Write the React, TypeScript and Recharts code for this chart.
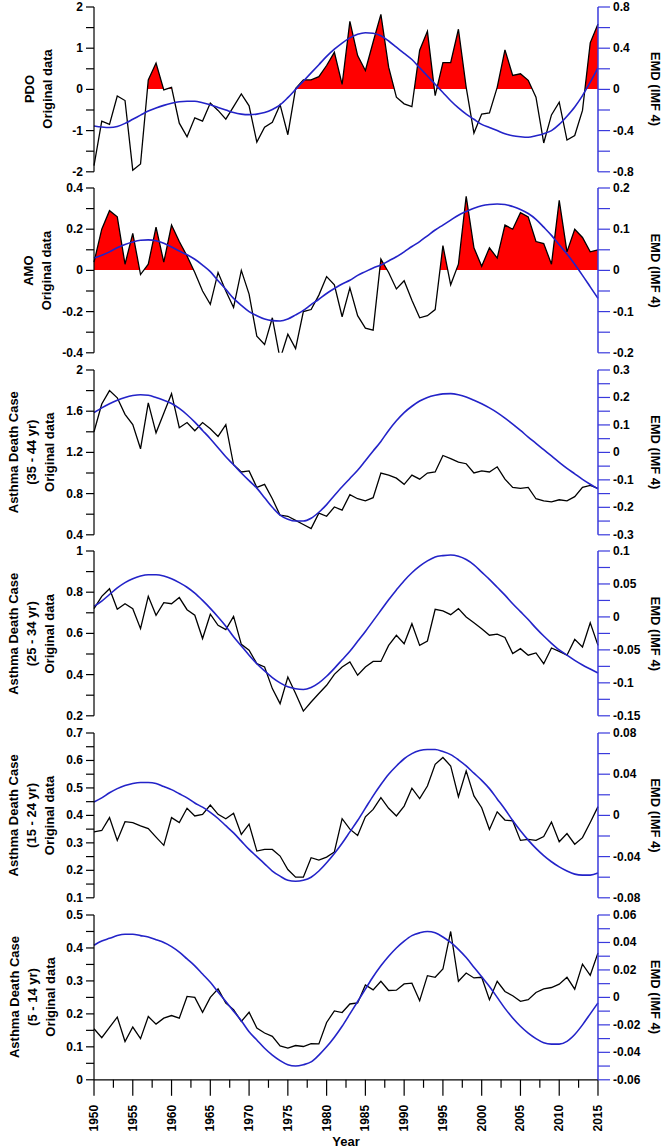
import React from "react";
import { ComposedChart, Line, Area, XAxis, YAxis } from "recharts";

const years = [
  1950, 1951, 1952, 1953, 1954, 1955, 1956, 1957, 1958, 1959,
  1960, 1961, 1962, 1963, 1964, 1965, 1966, 1967, 1968, 1969,
  1970, 1971, 1972, 1973, 1974, 1975, 1976, 1977, 1978, 1979,
  1980, 1981, 1982, 1983, 1984, 1985, 1986, 1987, 1988, 1989,
  1990, 1991, 1992, 1993, 1994, 1995, 1996, 1997, 1998, 1999,
  2000, 2001, 2002, 2003, 2004, 2005, 2006, 2007, 2008, 2009,
  2010, 2011, 2012, 2013, 2014, 2015,
];

// original data (left axes)
const pdo = [
  -1.85, -0.77, -0.85, -0.16, -0.27, -1.96, -1.81, 0.23, 0.64, -0.01,
  0.05, -0.82, -1.15, -0.69, -0.77, -0.33, -0.51, -0.72, -0.42, -0.11,
  -0.4, -1.28, -0.92, -0.8, -0.37, -1.1, 0.02, 0.23, 0.23, 0.31,
  0.58, 0.9, 0.12, 1.65, 0.82, 0.46, 1.15, 1.82, 0.54, -0.19,
  -0.35, -0.42, 0.95, 1.41, -0.15, 0.65, 0.65, 1.46, 0.05, -1.06,
  -0.6, -0.57, 0.05, 0.96, 0.34, 0.38, 0.22, -0.19, -1.3, -0.62,
  -0.31, -1.23, -1.12, -0.51, 1.13, 1.59,
];
const amo = [
  0.04, 0.2, 0.29, 0.26, 0.03, 0.18, -0.02, 0.03, 0.21, 0.04,
  0.22, 0.14, 0.07, -0.01, -0.1, -0.165, -0.01, -0.1, -0.18, 0.0,
  -0.115, -0.32, -0.36, -0.23, -0.43, -0.31, -0.38, -0.2, -0.19, -0.12,
  -0.03, -0.07, -0.225, -0.085, -0.22, -0.28, -0.29, 0.055, -0.01, -0.09,
  -0.05, -0.145, -0.23, -0.22, -0.19, 0.12, -0.07, 0.03, 0.36, 0.11,
  0.02, 0.11, 0.06, 0.22, 0.2, 0.28, 0.26, 0.14, 0.13, 0.03,
  0.34, 0.09, 0.2, 0.16, 0.09, 0.1,
];
const age3544 = [
  1.4, 1.67, 1.8, 1.73, 1.57, 1.47, 1.235, 1.68, 1.39, 1.58,
  1.77, 1.44, 1.49, 1.41, 1.49, 1.43, 1.355, 1.47, 1.08, 1.01,
  1.02, 0.86, 0.89, 0.75, 0.59, 0.58, 0.54, 0.5, 0.46, 0.61,
  0.58, 0.67, 0.64, 0.79, 0.75, 0.73, 0.76, 1.0, 0.98, 0.95,
  0.89, 0.98, 0.94, 1.0, 1.01, 1.17, 1.14, 1.105, 1.09, 1.0,
  1.02, 1.01, 1.06, 0.94, 0.86, 0.85, 0.86, 0.75, 0.73, 0.72,
  0.74, 0.73, 0.77, 0.86, 0.88, 0.85,
];
const age2534 = [
  0.72, 0.78, 0.817, 0.717, 0.744, 0.72, 0.623, 0.78, 0.688, 0.749,
  0.744, 0.774, 0.715, 0.688, 0.575, 0.693, 0.639, 0.618, 0.683, 0.547,
  0.518, 0.453, 0.437, 0.332, 0.259, 0.388, 0.308, 0.223, 0.267, 0.308,
  0.348, 0.401, 0.437, 0.461, 0.397, 0.437, 0.464, 0.464, 0.542, 0.591,
  0.55, 0.647, 0.542, 0.563, 0.717, 0.709, 0.691, 0.72, 0.68, 0.652,
  0.623, 0.591, 0.596, 0.58, 0.502, 0.526, 0.494, 0.505, 0.453, 0.529,
  0.513, 0.494, 0.571, 0.534, 0.651, 0.542,
];
const age1524 = [
  0.34, 0.345, 0.392, 0.309, 0.377, 0.374, 0.362, 0.352, 0.321, 0.291,
  0.392, 0.374, 0.426, 0.398, 0.404, 0.438, 0.404, 0.388, 0.408, 0.331,
  0.368, 0.27, 0.276, 0.276, 0.252, 0.203, 0.175, 0.175, 0.246, 0.237,
  0.248, 0.267, 0.388, 0.35, 0.327, 0.395, 0.422, 0.465, 0.426, 0.398,
  0.434, 0.499, 0.461, 0.507, 0.586, 0.611, 0.58, 0.468, 0.562, 0.471,
  0.428, 0.349, 0.413, 0.383, 0.38, 0.309, 0.313, 0.309, 0.323, 0.376,
  0.304, 0.334, 0.295, 0.319, 0.374, 0.432,
];
const age0514 = [
  0.155, 0.128, 0.159, 0.19, 0.116, 0.16, 0.125, 0.192, 0.169, 0.187,
  0.195, 0.187, 0.253, 0.25, 0.205, 0.25, 0.276, 0.233, 0.213, 0.177,
  0.205, 0.157, 0.142, 0.132, 0.103, 0.096, 0.104, 0.101, 0.11, 0.109,
  0.174, 0.209, 0.204, 0.23, 0.233, 0.288, 0.273, 0.299, 0.271, 0.272,
  0.291, 0.293, 0.24, 0.316, 0.311, 0.336, 0.45, 0.299, 0.324, 0.309,
  0.311, 0.243, 0.299, 0.268, 0.255, 0.238, 0.243, 0.265, 0.276, 0.28,
  0.29, 0.311, 0.275, 0.351, 0.317, 0.385,
];

// EMD IMF 4 (right axes)
const pdoImf = [
  -0.355, -0.365, -0.37, -0.36, -0.33, -0.29, -0.25, -0.21, -0.18, -0.155,
  -0.135, -0.12, -0.115, -0.115, -0.13, -0.15, -0.175, -0.2, -0.225, -0.24,
  -0.245, -0.24, -0.225, -0.195, -0.15, -0.08, 0.0, 0.08, 0.16, 0.24,
  0.32, 0.39, 0.45, 0.5, 0.535, 0.55, 0.545, 0.52, 0.47, 0.41,
  0.35, 0.29, 0.21, 0.13, 0.05, -0.03, -0.11, -0.18, -0.24, -0.29,
  -0.34, -0.37, -0.4, -0.43, -0.45, -0.46, -0.465, -0.45, -0.43, -0.4,
  -0.34, -0.26, -0.17, -0.06, 0.07, 0.21,
];
const amoImf = [
  0.03, 0.037, 0.045, 0.055, 0.063, 0.069, 0.073, 0.074, 0.072, 0.066,
  0.057, 0.047, 0.038, 0.027, 0.013, -0.003, -0.025, -0.046, -0.068, -0.085,
  -0.1, -0.11, -0.118, -0.122, -0.123, -0.118, -0.108, -0.097, -0.083, -0.07,
  -0.056, -0.044, -0.033, -0.024, -0.012, -0.003, 0.006, 0.013, 0.023, 0.033,
  0.045, 0.058, 0.07, 0.084, 0.098, 0.11, 0.122, 0.134, 0.143, 0.151,
  0.157, 0.16, 0.161, 0.16, 0.155, 0.148, 0.138, 0.124, 0.105, 0.085,
  0.062, 0.04, 0.015, -0.012, -0.04, -0.068,
];
const imf3544 = [
  0.145, 0.162, 0.177, 0.19, 0.2, 0.207, 0.21, 0.208, 0.2, 0.19,
  0.178, 0.16, 0.137, 0.11, 0.08, 0.05, 0.017, -0.016, -0.045, -0.075,
  -0.103, -0.13, -0.165, -0.2, -0.228, -0.243, -0.25, -0.25, -0.24, -0.218,
  -0.19, -0.157, -0.125, -0.095, -0.065, -0.03, 0.005, 0.04, 0.08, 0.115,
  0.145, 0.168, 0.187, 0.2, 0.208, 0.213, 0.214, 0.21, 0.202, 0.19,
  0.177, 0.162, 0.145, 0.125, 0.103, 0.08, 0.056, 0.033, 0.01, -0.013,
  -0.036, -0.058, -0.078, -0.098, -0.116, -0.133,
];
const imf2534 = [
  0.016, 0.024, 0.034, 0.044, 0.052, 0.058, 0.062, 0.064, 0.064, 0.062,
  0.058, 0.052, 0.045, 0.036, 0.025, 0.013, 0.0, -0.014, -0.03, -0.044,
  -0.058, -0.071, -0.082, -0.092, -0.1, -0.106, -0.109, -0.11, -0.107, -0.1,
  -0.09, -0.078, -0.065, -0.052, -0.037, -0.022, -0.006, 0.01, 0.026, 0.041,
  0.055, 0.067, 0.077, 0.085, 0.091, 0.093, 0.094, 0.092, 0.087, 0.079,
  0.068, 0.057, 0.045, 0.033, 0.02, 0.008, -0.004, -0.017, -0.029, -0.04,
  -0.05, -0.058, -0.066, -0.073, -0.079, -0.085,
];
const imf1524 = [
  0.013, 0.017, 0.022, 0.026, 0.029, 0.031, 0.032, 0.032, 0.031, 0.028,
  0.025, 0.021, 0.017, 0.012, 0.008, 0.003, -0.003, -0.01, -0.017, -0.025,
  -0.033, -0.04, -0.047, -0.054, -0.059, -0.063, -0.064, -0.063, -0.06, -0.054,
  -0.046, -0.037, -0.027, -0.016, -0.005, 0.007, 0.019, 0.03, 0.04, 0.048,
  0.055, 0.06, 0.063, 0.064, 0.064, 0.062, 0.059, 0.054, 0.048, 0.041,
  0.034, 0.026, 0.016, 0.006, -0.005, -0.015, -0.024, -0.032, -0.039, -0.045,
  -0.05, -0.054, -0.057, -0.058, -0.058, -0.056,
];
const imf0514 = [
  0.038, 0.041, 0.043, 0.045, 0.046, 0.046, 0.045, 0.044, 0.042, 0.04,
  0.037, 0.033, 0.028, 0.023, 0.017, 0.011, 0.004, -0.003, -0.01, -0.017,
  -0.025, -0.031, -0.037, -0.042, -0.046, -0.049, -0.05, -0.049, -0.047, -0.042,
  -0.036, -0.029, -0.021, -0.012, -0.003, 0.006, 0.015, 0.023, 0.03, 0.036,
  0.041, 0.045, 0.047, 0.048, 0.047, 0.044, 0.04, 0.035, 0.029, 0.022,
  0.015, 0.008, 0.0, -0.008, -0.015, -0.021, -0.026, -0.03, -0.033, -0.034,
  -0.034, -0.032, -0.027, -0.02, -0.012, -0.004,
];

// axis ticks
const yearTicks = [
  1950, 1952.5, 1955, 1957.5, 1960, 1962.5, 1965, 1967.5, 1970, 1972.5,
  1975, 1977.5, 1980, 1982.5, 1985, 1987.5, 1990, 1992.5, 1995, 1997.5,
  2000, 2002.5, 2005, 2007.5, 2010, 2012.5, 2015,
];
const yearLabels = [1950, 1955, 1960, 1965, 1970, 1975, 1980, 1985, 1990, 1995, 2000, 2005, 2010, 2015];

const pdoTicks = [-2, -1.5, -1, -0.5, 0, 0.5, 1, 1.5, 2];
const pdoLabels = [-2, -1, 0, 1, 2];
const amoTicks = [-0.4, -0.3, -0.2, -0.1, 0, 0.1, 0.2, 0.3, 0.4];
const amoLabels = [-0.4, -0.2, 0, 0.2, 0.4];
const t3544 = [0.4, 0.6, 0.8, 1.0, 1.2, 1.4, 1.6, 1.8, 2.0];
const l3544 = [0.4, 0.8, 1.2, 1.6, 2];
const t2534 = [0.2, 0.3, 0.4, 0.5, 0.6, 0.7, 0.8, 0.9, 1.0];
const l2534 = [0.2, 0.4, 0.6, 0.8, 1];
const t1524 = [0.1, 0.15, 0.2, 0.25, 0.3, 0.35, 0.4, 0.45, 0.5, 0.55, 0.6, 0.65, 0.7];
const l1524 = [0.1, 0.2, 0.3, 0.4, 0.5, 0.6, 0.7];
const t0514 = [0, 0.05, 0.1, 0.15, 0.2, 0.25, 0.3, 0.35, 0.4, 0.45, 0.5];
const l0514 = [0, 0.1, 0.2, 0.3, 0.4, 0.5];

const pdoImfTicks = [-0.8, -0.6, -0.4, -0.2, 0, 0.2, 0.4, 0.6, 0.8];
const pdoImfLabels = [-0.8, -0.4, 0, 0.4, 0.8];
const amoImfTicks = [-0.2, -0.15, -0.1, -0.05, 0, 0.05, 0.1, 0.15, 0.2];
const amoImfLabels = [-0.2, -0.1, 0, 0.1, 0.2];
const r3544 = [-0.3, -0.25, -0.2, -0.15, -0.1, -0.05, 0, 0.05, 0.1, 0.15, 0.2, 0.25, 0.3];
const rl3544 = [-0.3, -0.2, -0.1, 0, 0.1, 0.2, 0.3];
const r2534 = [-0.15, -0.125, -0.1, -0.075, -0.05, -0.025, 0, 0.025, 0.05, 0.075, 0.1];
const rl2534 = [-0.15, -0.1, -0.05, 0, 0.05, 0.1];
const r1524 = [-0.08, -0.06, -0.04, -0.02, 0, 0.02, 0.04, 0.06, 0.08];
const rl1524 = [-0.08, -0.04, 0, 0.04, 0.08];
const r0514 = [-0.06, -0.05, -0.04, -0.03, -0.02, -0.01, 0, 0.01, 0.02, 0.03, 0.04, 0.05, 0.06];
const rl0514 = [-0.06, -0.04, -0.02, 0, 0.02, 0.04, 0.06];

const rows = years.map((year, i) => ({
  year,
  pdo: pdo[i],
  amo: amo[i],
  a3544: age3544[i],
  a2534: age2534[i],
  a1524: age1524[i],
  a0514: age0514[i],
  pdoImf: pdoImf[i],
  amoImf: amoImf[i],
  i3544: imf3544[i],
  i2534: imf2534[i],
  i1524: imf1524[i],
  i0514: imf0514[i],
}));

const panels = [
  { key: "pdo", imf: "pdoImf", title: ["PDO", "Original data"], dom: [-2, 2], ticks: pdoTicks, labels: pdoLabels, rdom: [-0.8, 0.8], rticks: pdoImfTicks, rlabels: pdoImfLabels, fill: pdo },
  { key: "amo", imf: "amoImf", title: ["AMO", "Original data"], dom: [-0.4, 0.4], ticks: amoTicks, labels: amoLabels, rdom: [-0.2, 0.2], rticks: amoImfTicks, rlabels: amoImfLabels, fill: amo },
  { key: "a3544", imf: "i3544", title: ["Asthma Death Case", "(35 - 44 yr)", "Original data"], dom: [0.4, 2], ticks: t3544, labels: l3544, rdom: [-0.3, 0.3], rticks: r3544, rlabels: rl3544 },
  { key: "a2534", imf: "i2534", title: ["Asthma Death Case", "(25 - 34 yr)", "Original data"], dom: [0.2, 1], ticks: t2534, labels: l2534, rdom: [-0.15, 0.1], rticks: r2534, rlabels: rl2534 },
  { key: "a1524", imf: "i1524", title: ["Asthma Death Case", "(15 - 24 yr)", "Original data"], dom: [0.1, 0.7], ticks: t1524, labels: l1524, rdom: [-0.08, 0.08], rticks: r1524, rlabels: rl1524 },
  { key: "a0514", imf: "i0514", title: ["Asthma Death Case", "(5 - 14 yr)", "Original data"], dom: [0, 0.5], ticks: t0514, labels: l0514, rdom: [-0.06, 0.06], rticks: r0514, rlabels: rl0514 },
];

const W = 671;
const H = 1148;
const LEFT_W = 94;
const RIGHT_W = 73;
const FIRST_TOP = 6.6;
const PITCH = 181.6;
const PLOT_H = 164.8;
const PAD = 6;
const FONT = "'Liberation Sans', Arial, sans-serif";
const BLUE = "#2323c8";
const AXIS_BLUE = "#3a3adc";

const fmt = (v: number) => String(Number(v.toFixed(4)));
const isLabel = (v: number, labels: number[]) => labels.some((l) => Math.abs(l - v) < 1e-9);

const YTick = (props: any) => {
  const { x, y, payload, side, labels, color } = props;
  const v = payload.value;
  const dir = side === "left" ? -1 : 1;
  const len = side === "left" ? 8 : 12;
  const lab = isLabel(v, labels);
  return (
    <g>
      <line x1={x} x2={x + dir * len} y1={y} y2={y} stroke={color} strokeWidth={1.2} />
      {lab && (
        <text
          x={x + dir * (len + 3)}
          y={y}
          textAnchor={side === "left" ? "end" : "start"}
          dominantBaseline="central"
          fontFamily={FONT}
          fontWeight="bold"
          fontSize={12}
          fill="#000"
        >
          {fmt(v)}
        </text>
      )}
    </g>
  );
};

const XTick = (props: any) => {
  const { x, y, payload } = props;
  const v = payload.value;
  const lab = isLabel(v, yearLabels);
  const ly = y + 25;
  return (
    <g>
      <line x1={x} x2={x} y1={y} y2={y + (lab ? 16 : 8)} stroke="#000" strokeWidth={1.2} />
      {lab && (
        <text
          x={x}
          y={ly}
          transform={`rotate(-90, ${x}, ${ly})`}
          textAnchor="end"
          dominantBaseline="central"
          fontFamily={FONT}
          fontWeight="bold"
          fontSize={12}
          fill="#000"
        >
          {v}
        </text>
      )}
    </g>
  );
};

const Panel = ({ p, i }: { p: any; i: number }) => {
  const last = i === panels.length - 1;
  const plotTop = FIRST_TOP + PITCH * i;
  const top = plotTop - PAD;
  const height = last ? H - top : PLOT_H + 2 * PAD;
  const xH = last ? height - PAD - PLOT_H : 0;
  let off = 0;
  if (p.fill) {
    const mx = Math.max(...p.fill);
    const mn = Math.min(...p.fill, 0);
    off = mx / (mx - mn);
  }
  return (
    <div style={{ position: "absolute", left: 0, top, width: W, height }}>
      <ComposedChart
        width={W}
        height={height}
        data={rows}
        margin={{ top: PAD, bottom: last ? 0 : PAD, left: 0, right: 0 }}
      >
        <defs>
          <linearGradient id={`fill-${p.key}`} x1="0" y1="0" x2="0" y2="1">
            <stop offset={off} stopColor="#ff0000" stopOpacity={1} />
            <stop offset={off} stopColor="#ff0000" stopOpacity={0} />
          </linearGradient>
        </defs>
        <XAxis
          dataKey="year"
          type="number"
          domain={[1950, 2015]}
          ticks={yearTicks}
          interval={0}
          hide={!last}
          height={xH}
          tickSize={0}
          tickMargin={0}
          tickLine={false}
          axisLine={{ stroke: "#000", strokeWidth: 1.2 }}
          tick={(t: any) => <XTick {...t} />}
          label={
            last
              ? { value: "Year", position: "insideBottom", offset: 2, fontFamily: FONT, fontWeight: "bold", fontSize: 13, fill: "#000" }
              : undefined
          }
        />
        <YAxis
          yAxisId="left"
          orientation="left"
          width={LEFT_W}
          type="number"
          domain={p.dom}
          ticks={p.ticks}
          interval={0}
          allowDataOverflow
          tickSize={0}
          tickMargin={0}
          tickLine={false}
          axisLine={{ stroke: "#000", strokeWidth: 1.2 }}
          tick={(t: any) => <YTick {...t} side="left" labels={p.labels} color="#000" />}
        />
        <YAxis
          yAxisId="right"
          orientation="right"
          width={RIGHT_W}
          type="number"
          domain={p.rdom}
          ticks={p.rticks}
          interval={0}
          allowDataOverflow
          tickSize={0}
          tickMargin={0}
          tickLine={false}
          axisLine={{ stroke: AXIS_BLUE, strokeWidth: 1.5 }}
          tick={(t: any) => <YTick {...t} side="right" labels={p.rlabels} color={AXIS_BLUE} />}
        />
        {p.fill && (
          <Area
            yAxisId="left"
            type="linear"
            dataKey={p.key}
            baseValue={0}
            stroke="none"
            fill={`url(#fill-${p.key})`}
            fillOpacity={1}
            isAnimationActive={false}
          />
        )}
        <Line
          yAxisId="left"
          type="linear"
          dataKey={p.key}
          stroke="#000"
          strokeWidth={1.3}
          dot={false}
          activeDot={false}
          isAnimationActive={false}
        />
        <Line
          yAxisId="right"
          type="monotone"
          dataKey={p.imf}
          stroke={BLUE}
          strokeWidth={1.6}
          dot={false}
          activeDot={false}
          isAnimationActive={false}
        />
      </ComposedChart>
    </div>
  );
};

const Titles = () => (
  <svg width={W} height={H} style={{ position: "absolute", left: 0, top: 0, pointerEvents: "none" }}>
    {panels.map((p, i) => {
      const cy = FIRST_TOP + PITCH * i + PLOT_H / 2;
      const xs = p.title.length === 2 ? [29, 47] : [14, 32, 50];
      return (
        <g key={p.key}>
          {p.title.map((t: string, j: number) => (
            <text
              key={t}
              x={xs[j]}
              y={cy}
              transform={`rotate(-90, ${xs[j]}, ${cy})`}
              textAnchor="middle"
              dominantBaseline="central"
              fontFamily={FONT}
              fontWeight="bold"
              fontSize={13}
              fill="#000"
            >
              {t}
            </text>
          ))}
          <text
            x={655}
            y={cy}
            transform={`rotate(90, 655, ${cy})`}
            textAnchor="middle"
            dominantBaseline="central"
            fontFamily={FONT}
            fontWeight="bold"
            fontSize={13}
            fill="#000"
          >
            EMD (IMF 4)
          </text>
        </g>
      );
    })}
  </svg>
);

export default function App() {
  return (
    <div style={{ position: "absolute", left: 0, top: 0, width: W, height: H, background: "#fff" }}>
      {panels.map((p, i) => (
        <Panel key={p.key} p={p} i={i} />
      ))}
      <Titles />
    </div>
  );
}
